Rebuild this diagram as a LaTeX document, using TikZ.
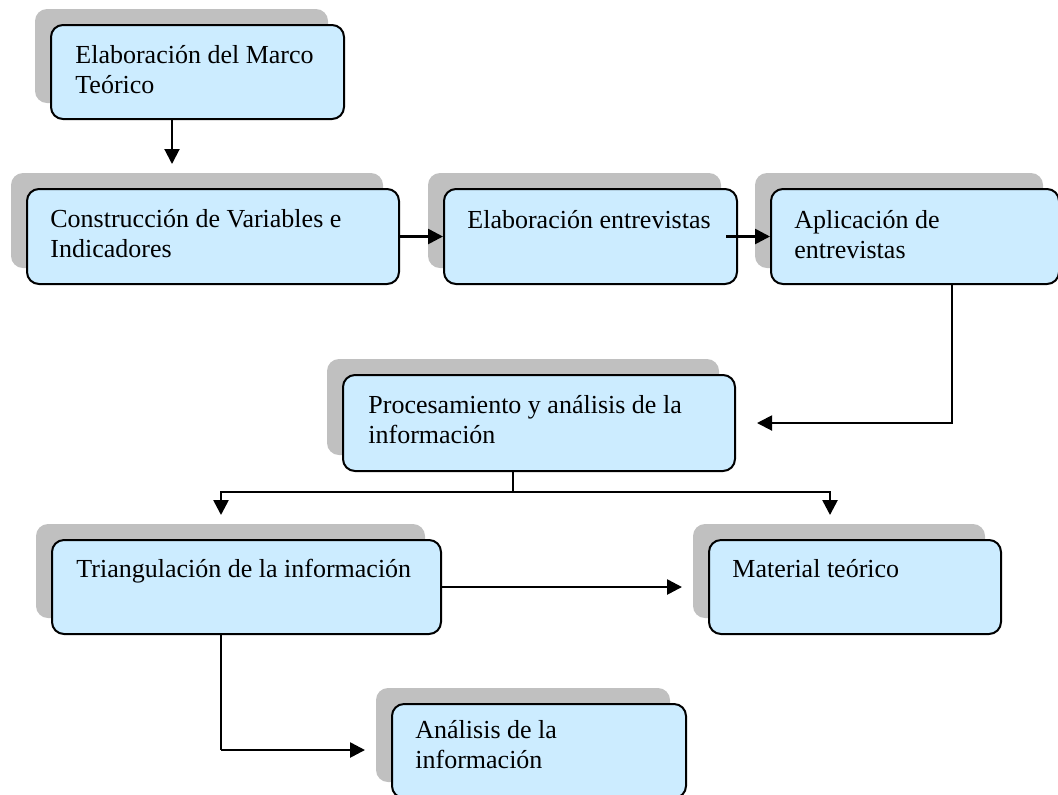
\documentclass[tikz,border=0pt]{standalone}
\usepackage{fontspec}
\setmainfont{Liberation Serif}
\usetikzlibrary{arrows.meta,shadows}
\definecolor{boxblue}{HTML}{CCECFF}
\definecolor{shgray}{HTML}{C0C0C0}
\tikzset{
  box/.style={draw=black, line width=1pt, fill=boxblue, rounded corners=6pt,
    anchor=north west, inner sep=0pt,
    general shadow={fill=shgray, shadow xshift=-8pt, shadow yshift=8pt}},
  txt/.style={anchor=base west, inner sep=0pt, font=\fontsize{13}{15}\selectfont,
    align=flush left, text width=200pt},
  arr/.style={line width=1.3pt, -{Triangle[length=7.5pt,width=7.5pt]}},
  medline/.style={line width=1pt, -{Triangle[length=7.5pt,width=7.5pt]}},
  thinline/.style={line width=0.7pt},
}
\begin{document}
\begin{tikzpicture}[x=0.5pt,y=-0.5pt]
\useasboundingbox (0,0) rectangle (1058,794);
% boxes
\node[box, minimum width=146.5pt, minimum height=47pt] (b1) at (50,24) {};
\node[txt] (t1) at (75,63) {Elaboración del Marco\\Teórico};
\node[box, minimum width=186pt, minimum height=47.5pt] (b2) at (26,188) {};
\node[txt] (t2) at (50,227) {Construcción de Variables e\\Indicadores};
\node[box, minimum width=146.5pt, minimum height=47.5pt] (b3) at (443,188) {};
\node[txt] (t3) at (467,228) {Elaboración entrevistas};
\node[box, minimum width=144pt, minimum height=47.5pt] (b4) at (770,188) {};
\node[txt] (t4) at (794,228) {Aplicación de\\entrevistas};
\node[box, minimum width=196pt, minimum height=48pt] (b5) at (342,374) {};
\node[txt] (t5) at (368,413) {Procesamiento y análisis de la\\información};
\node[box, minimum width=194.5pt, minimum height=47pt] (b6) at (51,539) {};
\node[txt] (t6) at (76,577) {Triangulación de la información};
\node[box, minimum width=146pt, minimum height=47pt] (b7) at (708,539) {};
\node[txt] (t7) at (732,577) {Material teórico};
\node[box, minimum width=147pt, minimum height=47pt] (b8) at (391,703) {};
\node[txt] (t8) at (415,738) {Análisis de la\\información};
% connectors
\coordinate (c1) at (172,164);
\draw[medline] (b1.south -| c1) -- (c1);
\draw[arr] (b2.east) -- (b3.west);
\draw[arr] ([xshift=-6pt]b3.east) -- (b4.west);
\coordinate (k4) at (952,423);
\coordinate (c4) at (757,423);
\draw[medline] (b4.south -| k4) -- (k4) -- (c4);
\coordinate (k5) at (513,492);
\coordinate (c6) at (221,515);
\coordinate (c7) at (830,515);
\draw[thinline] (b5.south -| k5) -- (k5);
\draw[arr] (k5) -| (c6);
\draw[arr] (k5) -| (c7);
\coordinate (c8) at (682,586);
\draw[arr] (b6.east) -- (b6.east -| c8);
\coordinate (c9) at (365,750);
\draw[thinline] (b6.south -| c6) -- (c6 |- c9);
\draw[arr] (c6 |- c9) -- (c9);
\end{tikzpicture}
\end{document}
